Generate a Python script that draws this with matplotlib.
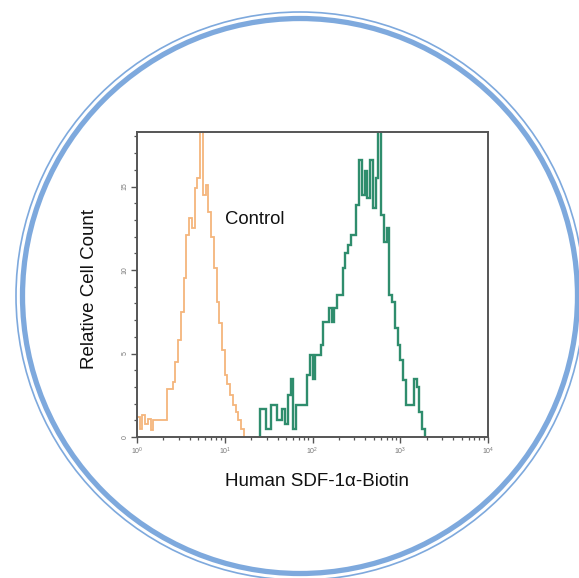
import numpy as np
import matplotlib
matplotlib.use("Agg")
import matplotlib.pyplot as plt
from matplotlib.patches import Circle
from matplotlib.ticker import FixedLocator, LogLocator, NullFormatter

plt.rcParams['font.family'] = ['Liberation Sans', 'DejaVu Sans']

# ---- data (channel counts, 32 channels per decade, 10^0 .. 10^4) ----
bins_per_decade = 32
n_bins = 128
control_start = 0
control_counts = [1.2, 0.5, 1.3, 0.8, 1.1, 0.4, 1.0, 1.0, 1.0, 1.0, 1.0, 2.9,
                  2.9, 3.3, 4.5, 5.8, 7.5, 9.5, 12.1, 13.1, 12.5, 14.9, 15.5, 20.0,
                  14.5, 15.1, 13.5, 12.0, 10.1, 8.1, 6.8, 5.2, 3.7, 3.2, 2.5, 1.9,
                  1.5, 1.0, 0.5]
sdf_start = 45
sdf_counts = [1.7, 1.7, 0.5, 0.5, 1.9, 1.9, 1.0, 1.0, 1.7, 0.8, 2.5, 3.5,
              0.5, 1.9, 1.9, 1.9, 1.9, 3.7, 4.9, 3.5, 4.9, 4.9, 5.5, 6.9,
              6.9, 7.7, 6.9, 7.7, 8.5, 8.5, 10.1, 11.0, 11.5, 12.1, 12.1, 13.9,
              16.6, 14.5, 15.9, 14.3, 16.6, 13.7, 15.5, 20.0, 13.3, 11.7, 12.5, 8.5,
              8.1, 6.5, 5.5, 4.6, 3.4, 1.9, 1.9, 1.9, 3.5, 3.0, 1.5, 0.5]
y_ticks = [0, 5, 10, 15]
y_tick_labels = ['0', '5', '10', '15']
x_label = 'Human SDF-1\u03b1-Biotin'
y_label = 'Relative Cell Count'
control_label = 'Control'

W, H = 579, 578
fig = plt.figure(figsize=(W / 100, H / 100), dpi=100)

# background circle frame
bg = fig.add_axes([0, 0, 1, 1])
bg.set_xlim(0, W)
bg.set_ylim(H, 0)
bg.axis('off')
bg.add_patch(Circle((300, 296), 277.5, fill=False, lw=3.8, ec='#7EA9DD'))
bg.add_patch(Circle((300, 296), 284, fill=False, lw=1.2, ec='#7EA9DD'))

# main axes
left, right, top, bottom = 137, 488, 132, 437
ax = fig.add_axes([left / W, 1 - bottom / H, (right - left) / W, (bottom - top) / H])
ax.set_facecolor('none')

def edges_for(start, n):
    idx = np.arange(start, start + n + 1)
    return 10 ** (idx / bins_per_decade)

ax.stairs(control_counts, edges_for(control_start, len(control_counts)), baseline=0,
          color='#F4B57C', lw=1.3)
ax.stairs(sdf_counts, edges_for(sdf_start, len(sdf_counts)), baseline=0,
          color='#2F8D6D', lw=1.7)

ax.set_xscale('log')
ax.set_xlim(1, 1e4)
ax.set_ylim(0, (bottom - top) / 16.7)

for s in ax.spines.values():
    s.set_color('#555555')
    s.set_linewidth(1.4)

ax.yaxis.set_major_locator(FixedLocator(y_ticks))
ax.yaxis.set_minor_locator(FixedLocator(np.arange(0, 19, 1)))
ax.set_yticklabels(y_tick_labels, rotation=90, va='center', fontsize=4.5, color='#777777')
ax.xaxis.set_major_locator(LogLocator(base=10, numticks=10))
ax.xaxis.set_minor_locator(LogLocator(base=10, subs=np.arange(2, 10), numticks=50))
ax.xaxis.set_minor_formatter(NullFormatter())
ax.tick_params(axis='both', which='major', length=4, width=1.0, color='#555555',
               labelsize=5, labelcolor='#777777', pad=2)
ax.tick_params(axis='both', which='minor', length=2.5, width=0.9, color='#555555')

ax.text(10 ** ((225 - left) / 87.75), (bottom - 220) / 16.7, control_label,
        fontsize=13.3, va='center', ha='left', color='#111111')

fig.text(317 / W, 1 - 481 / H, x_label, fontsize=13.5, ha='center', va='center',
         color='#111111')
fig.text(90 / W, 1 - 289 / H, y_label, fontsize=13.5, ha='center', va='center',
         rotation=90, color='#111111')

fig.savefig('out.png', dpi=100)
